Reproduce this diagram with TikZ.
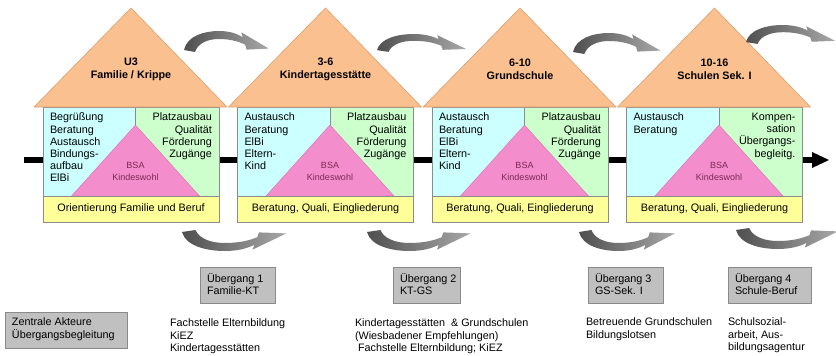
\documentclass[tikz,border=0pt]{standalone}
\usepackage{fontspec}
\setmainfont{Liberation Sans}
\usetikzlibrary{calc}
\definecolor{roofcol}{HTML}{FBC08F}
\definecolor{roofedge}{HTML}{D9A06E}
\definecolor{bluecol}{HTML}{CCFFFF}
\definecolor{greencol}{HTML}{CCFFCC}
\definecolor{pinkcol}{HTML}{F38DCB}
\definecolor{pinkedge}{HTML}{D872AE}
\definecolor{yellowcol}{HTML}{FFFF99}
\definecolor{edgecol}{HTML}{8C8C8C}
\definecolor{bsacol}{HTML}{7A2A55}
\definecolor{boxgray}{HTML}{C0C0C0}
\definecolor{boxedge}{HTML}{8A8A8A}
\definecolor{arrowdark}{HTML}{4F4F4F}
\definecolor{arrowlight}{HTML}{A8A8A8}

\tikzset{
  every node/.style={inner sep=0pt, outer sep=0pt},
  txt/.style={font=\fontsize{10.8}{12.2}\selectfont},
  housetitle/.style={font=\fontsize{10.8}{13}\selectfont\bfseries, align=center},
  lefttext/.style={txt, align=left, anchor=north west},
  righttext/.style={txt, align=right, anchor=north east},
  bsatext/.style={font=\fontsize{9}{11.5}\selectfont, align=center, text=bsacol},
  striptext/.style={txt},
  bodyedge/.style={draw=edgecol, line width=0.6pt},
  rooffill/.style={fill=roofcol, draw=roofedge, line width=0.6pt, line join=round},
  pinktri/.style={fill=pinkcol, draw=pinkedge, line width=0.4pt},
  graybox/.style={draw=boxedge, fill=boxgray, line width=0.8pt, anchor=north west},
  boxtext/.style={txt, align=left, anchor=north west},
  bottomtext/.style={txt, align=left, anchor=north west},
  timeline/.style={line width=6pt, draw=black},
  bendarrow/.pic={
    \shade[left color=arrowdark, right color=arrowlight]
      (0,19) .. controls (3,5) and (20,0) .. (35,0)
      .. controls (45,0) and (53,2.5) .. (58.8,6.2)
      -- (57.4,1.4) -- (84.9,17.6) -- (62.6,18.6) -- (61.2,13.8)
      .. controls (54,10) and (45,8) .. (35,8)
      .. controls (24,8) and (14,12) .. (11,21) -- cycle;
  }
}

\newcommand{\drawhouse}[6]{%
  \pgfmathsetmacro{\hxL}{#2-88}%
  \pgfmathsetmacro{\hxR}{#2+88}%
  \pgfmathsetmacro{\hxD}{#2+4.5}%
  \pgfmathsetmacro{\rfL}{#2-97}%
  \pgfmathsetmacro{\rfR}{#2+96}%
  \fill[bluecol] (\hxL,107) rectangle (\hxD,196);
  \fill[greencol] (\hxD,107) rectangle (\hxR,196);
  \fill[yellowcol] (\hxL,196) rectangle (\hxR,222);
  \draw[bodyedge] (\hxD,107) -- (\hxD,126);
  \filldraw[pinktri] (\hxD,125) -- (\hxD+64,196) -- (\hxD-64,196) -- cycle;
  \draw[bodyedge] (\hxL,196) -- (\hxR,196);
  \draw[bodyedge] (\hxL,107) rectangle (\hxR,222);
  \filldraw[rooffill] (\rfL,107) -- (#2,8) -- (\rfR,107) -- cycle;
  \node[housetitle] (#1-title) at (#2,69.5) {#3};
  \node[lefttext] (#1-left) at (\hxL+7,113) {#4};
  \node[righttext] (#1-right) at (\hxR-7,113) {#5};
  \node[bsatext] (#1-bsa) at (\hxD,171.5) {BSA\\Kindeswohl};
  \node[striptext] (#1-strip) at (#2,209) {#6};
}

\begin{document}
\begin{tikzpicture}[x=1pt, y=-1pt]
\useasboundingbox (0,0) rectangle (836,356);
\clip (0,0) rectangle (836,356);
\fill[white] (0,0) rectangle (836,356);

% timeline
\coordinate (tl-start) at (24,160);
\coordinate (tl-end) at (813,160);
\draw[timeline] (tl-start) -- (tl-end);
\fill (tl-end) ++(-1,-8) -- ++(17,8) -- ++(-17,8) -- cycle;

% houses
\drawhouse{h1}{131}{U3\\Familie / Krippe}
  {Begrüßung\\Beratung\\Austausch\\Bindungs-\\aufbau\\ElBi}
  {Platzausbau\\Qualität\\Förderung\\Zugänge}
  {Orientierung Familie und Beruf}
\drawhouse{h2}{325.5}{3-6\\Kindertagesstätte}
  {Austausch\\Beratung\\ElBi\\Eltern-\\Kind}
  {Platzausbau\\Qualität\\Förderung\\Zugänge}
  {Beratung, Quali, Eingliederung}
\drawhouse{h3}{520}{6-10\\Grundschule}
  {Austausch\\Beratung\\ElBi\\Eltern-\\Kind}
  {Platzausbau\\Qualität\\Förderung\\Zugänge}
  {Beratung, Quali, Eingliederung}
\drawhouse{h4}{714.5}{10-16\\Schulen Sek. I}
  {Austausch\\Beratung}
  {Kompen-\\sation\\Übergangs-\\begleitg.}
  {Beratung, Quali, Eingliederung}

% curved arrows top
\pic at (184,31) {bendarrow};
\pic[xscale=1.05, yscale=0.85] at (377,34) {bendarrow};
\pic[xscale=1.03] at (573,33) {bendarrow};
\pic[xscale=1.05, yscale=0.9] at (746,25) {bendarrow};

% curved arrows bottom
\pic[xscale=1.23, yscale=-1] at (182,251) {bendarrow};
\pic[xscale=1.22, yscale=-1] at (367,251) {bendarrow};
\pic[xscale=1.13, yscale=-1] at (579,251) {bendarrow};
\pic[xscale=1.2, yscale=-1] at (736,249) {bendarrow};

% transition boxes
\node[graybox, minimum width=75pt, minimum height=36pt] (ue1) at (200,267) {};
\node[boxtext] (ue1-text) at ($(ue1.north west)+(7,6)$) {Übergang 1\\Familie-KT};
\node[graybox, minimum width=67pt, minimum height=36pt] (ue2) at (393,267) {};
\node[boxtext] (ue2-text) at ($(ue2.north west)+(7,6)$) {Übergang 2\\KT-GS};
\node[graybox, minimum width=75pt, minimum height=36pt] (ue3) at (588,267) {};
\node[boxtext] (ue3-text) at ($(ue3.north west)+(7,6)$) {Übergang 3\\GS-Sek. I};
\node[graybox, minimum width=83pt, minimum height=36pt] (ue4) at (728,267) {};
\node[boxtext] (ue4-text) at ($(ue4.north west)+(7,6)$) {Übergang 4\\Schule-Beruf};
\node[graybox, minimum width=122pt, minimum height=36pt] (za) at (5,312) {};
\node[boxtext] (za-text) at ($(za.north west)+(7,6)$) {Zentrale Akteure\\Übergangsbegleitung};

% actors
\node[bottomtext] (act1) at (170,319) {Fachstelle Elternbildung\\KiEZ\\Kindertagesstätten};
\node[bottomtext] (act2) at (355,319) {Kindertagesstätten\ \ \& Grundschulen\\(Wiesbadener Empfehlungen)\\\hspace*{3pt}Fachstelle Elternbildung; KiEZ};
\node[bottomtext] (act3) at (586,318) {Betreuende Grundschulen\\Bildungslotsen};
\node[bottomtext] (act4) at (728,318) {Schulsozial-\\arbeit, Aus-\\bildungsagentur};
\end{tikzpicture}
\end{document}
